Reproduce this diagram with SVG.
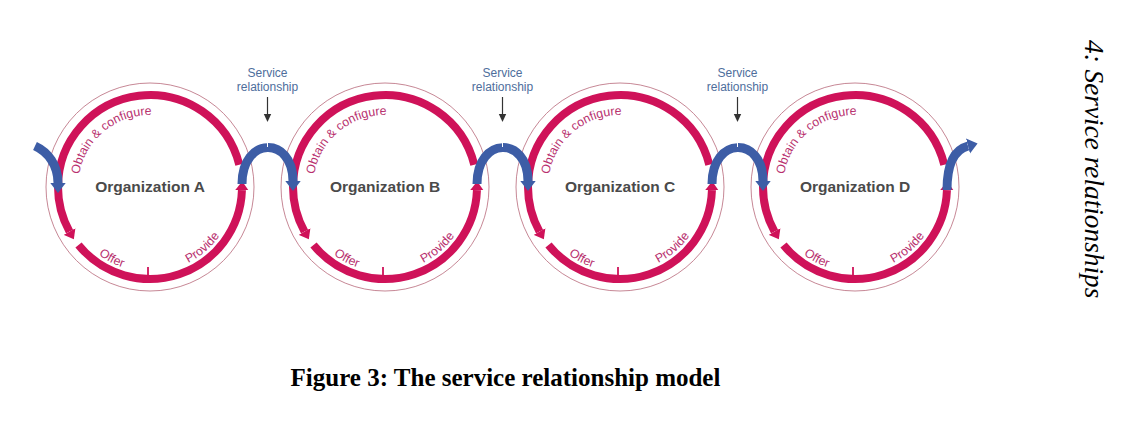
<svg xmlns="http://www.w3.org/2000/svg" width="1138" height="422" viewBox="0 0 1138 422">
<style>
.thin{fill:none;stroke:#B8687A;stroke-width:0.8}
.mag{fill:none;stroke:#CF1259;stroke-width:8}
.tick{stroke:#CF1259;stroke-width:1.8}
.blue{fill:none;stroke:#3D5DA6;stroke-width:9}
.lbl{font-family:"Liberation Sans",Arial,sans-serif;font-size:12.3px;fill:#B8306E}
.org{font-family:"Liberation Sans",Arial,sans-serif;font-size:15.5px;font-weight:bold;fill:#4A4A4A;text-anchor:middle}
.svc{font-family:"Liberation Sans",Arial,sans-serif;font-size:12px;fill:#4E6E9C;text-anchor:middle}
.ptr{stroke:#333;stroke-width:1.2}
</style>
<defs>
<marker id="mh" markerUnits="userSpaceOnUse" markerWidth="10" markerHeight="14" refX="0" refY="6" orient="auto" viewBox="0 0 9 12">
<path d="M0,0 L8,6 L0,12 z" fill="#CF1259"/>
</marker>
<marker id="bh" markerUnits="userSpaceOnUse" markerWidth="11" markerHeight="16" refX="0" refY="7" orient="auto" viewBox="0 0 10 14">
<path d="M0,0 L9,7 L0,14 z" fill="#3D5DA6"/>
</marker>
<path id="topArc" d="M -92 0 A 92 92 0 0 1 89.27 -22.26"/>
<path id="leftArc" d="M -92 0 A 92 92 0 0 0 -80.46 44.6"/>
<path id="botArc" d="M -71.5 57.9 A 92 92 0 0 0 91.94 3.21"/>
<path id="tpObtain" d="M -70.91 -12.5 A 72 72 0 0 1 36 -62.35"/>
<path id="tpBottom" d="M -83.71 14.76 A 85 85 0 0 0 83.71 14.76"/>
</defs>

<g id="orgA" transform="translate(150,187)">
<circle class="thin" r="104"/>
<use href="#topArc" class="mag"/>
<use href="#leftArc" class="mag" marker-end="url(#mh)"/>
<use href="#botArc" class="mag" marker-end="url(#mh)"/>
<line class="tick" x1="-2" y1="80" x2="-2" y2="88"/>
<text class="lbl"><textPath href="#tpObtain">Obtain &amp; configure</textPath></text>
<text class="lbl" text-anchor="middle"><textPath href="#tpBottom" startOffset="77">Offer</textPath></text>
<text class="lbl" text-anchor="middle"><textPath href="#tpBottom" startOffset="179">Provide</textPath></text>
<text class="org" x="0" y="5">Organization A</text>
</g>

<g id="orgB" transform="translate(385,187)">
<circle class="thin" r="104"/>
<use href="#topArc" class="mag"/>
<use href="#leftArc" class="mag" marker-end="url(#mh)"/>
<use href="#botArc" class="mag" marker-end="url(#mh)"/>
<line class="tick" x1="-2" y1="80" x2="-2" y2="88"/>
<text class="lbl"><textPath href="#tpObtain">Obtain &amp; configure</textPath></text>
<text class="lbl" text-anchor="middle"><textPath href="#tpBottom" startOffset="77">Offer</textPath></text>
<text class="lbl" text-anchor="middle"><textPath href="#tpBottom" startOffset="179">Provide</textPath></text>
<text class="org" x="0" y="5">Organization B</text>
</g>

<g id="orgC" transform="translate(620,187)">
<circle class="thin" r="104"/>
<use href="#topArc" class="mag"/>
<use href="#leftArc" class="mag" marker-end="url(#mh)"/>
<use href="#botArc" class="mag" marker-end="url(#mh)"/>
<line class="tick" x1="-2" y1="80" x2="-2" y2="88"/>
<text class="lbl"><textPath href="#tpObtain">Obtain &amp; configure</textPath></text>
<text class="lbl" text-anchor="middle"><textPath href="#tpBottom" startOffset="77">Offer</textPath></text>
<text class="lbl" text-anchor="middle"><textPath href="#tpBottom" startOffset="179">Provide</textPath></text>
<text class="org" x="0" y="5">Organization C</text>
</g>

<g id="orgD" transform="translate(855,187)">
<circle class="thin" r="104"/>
<use href="#topArc" class="mag"/>
<use href="#leftArc" class="mag" marker-end="url(#mh)"/>
<use href="#botArc" class="mag" marker-end="url(#mh)"/>
<line class="tick" x1="-2" y1="80" x2="-2" y2="88"/>
<text class="lbl"><textPath href="#tpObtain">Obtain &amp; configure</textPath></text>
<text class="lbl" text-anchor="middle"><textPath href="#tpBottom" startOffset="77">Offer</textPath></text>
<text class="lbl" text-anchor="middle"><textPath href="#tpBottom" startOffset="179">Provide</textPath></text>
<text class="org" x="0" y="5">Organization D</text>
</g>

<g id="connectors">
<path class="blue" d="M 35 146 C 48 152 58 165 58 183" marker-end="url(#bh)"/>
<path class="blue" d="M 242 184 C 242 136 293 136 293 181" marker-end="url(#bh)"/>
<path class="blue" d="M 477 184 C 477 136 528 136 528 181" marker-end="url(#bh)"/>
<path class="blue" d="M 712 184 C 712 136 763 136 763 181" marker-end="url(#bh)"/>
<path class="blue" d="M 947 190 C 947 165 953 150 968 146" marker-end="url(#bh)"/>
<g stroke="#FFFFFF" stroke-width="1">
<line x1="267.5" y1="142.5" x2="267.5" y2="147"/>
<line x1="502.5" y1="142.5" x2="502.5" y2="147"/>
<line x1="737.5" y1="142.5" x2="737.5" y2="147"/>
</g>
</g>

<g id="svcLabels">
<text class="svc" x="267.5" y="77">Service</text>
<text class="svc" x="267.5" y="91">relationship</text>
<line class="ptr" x1="267.5" y1="97" x2="267.5" y2="115"/>
<polygon points="263.8,114 271.2,114 267.5,122" fill="#333"/>
<text class="svc" x="502.5" y="77">Service</text>
<text class="svc" x="502.5" y="91">relationship</text>
<line class="ptr" x1="502.5" y1="97" x2="502.5" y2="115"/>
<polygon points="498.8,114 506.2,114 502.5,122" fill="#333"/>
<text class="svc" x="737.5" y="77">Service</text>
<text class="svc" x="737.5" y="91">relationship</text>
<line class="ptr" x1="737.5" y1="97" x2="737.5" y2="115"/>
<polygon points="733.8,114 741.2,114 737.5,122" fill="#333"/>
</g>

<text x="505.5" y="386" text-anchor="middle" font-family="'Liberation Serif','Times New Roman',serif" font-size="25" font-weight="bold" fill="#000">Figure 3: The service relationship model</text>
<text transform="translate(1085,40) rotate(90)" font-family="'Liberation Serif','Times New Roman',serif" font-size="27.3" font-style="italic" fill="#000">4: Service relationships</text>
</svg>
